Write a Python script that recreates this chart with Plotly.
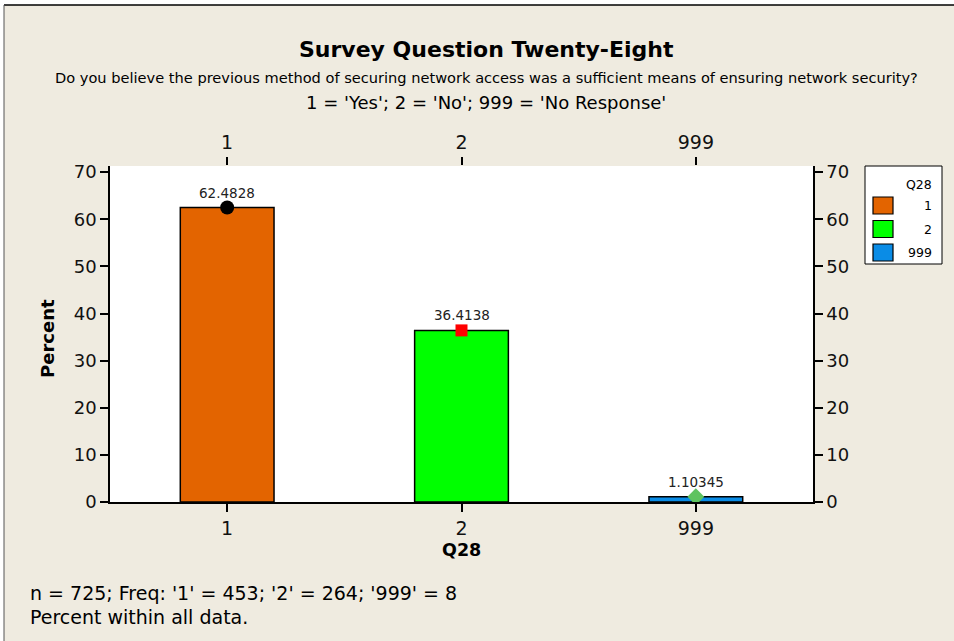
import plotly.graph_objects as go

# ---- data ----
categories = ["1", "2", "999"]
percents = [62.4828, 36.4138, 1.10345]
freqs = [453, 264, 8]
n_total = 725
bar_colors = ["#E36400", "#00FF00", "#0A8CE6"]
marker_symbols = ["circle", "square", "diamond"]
marker_colors = ["#000000", "#FF0000", "#5FC35F"]
marker_sizes = [14, 12, 13]
y_ticks = [0, 10, 20, 30, 40, 50, 60, 70]

title = "Survey Question Twenty-Eight"
subtitle1 = "Do you believe the previous method of securing network access was a sufficient means of ensuring network security?"
subtitle2 = "1 = 'Yes'; 2 = 'No'; 999 = 'No Response'"
footer1 = "n = 725; Freq: '1' = 453; '2' = 264; '999' = 8"
footer2 = "Percent within all data."

W, H = 954, 641
ML, MR, MT, MB = 110, 141, 166, 139
PW, PH = W - ML - MR, H - MT - MB
FONT = "DejaVu Sans"
BG = "#EFEBE0"


def px2x(px):
    return (px - ML) / PW


def px2y(py):
    return (H - MB - py) / PH


fig = go.Figure()

fig.add_trace(go.Bar(
    x=categories, y=percents, width=0.4,
    marker=dict(color=bar_colors, line=dict(color="black", width=1.5)),
    showlegend=False, hoverinfo="x+y",
))
fig.add_trace(go.Scatter(
    x=categories, y=percents, mode="markers",
    marker=dict(symbol=marker_symbols, color=marker_colors, size=marker_sizes,
                opacity=1, line=dict(width=0)),
    showlegend=False, cliponaxis=False,
))

# value labels
for i, v in enumerate(percents):
    fig.add_annotation(x=i, y=v, text=f"{v:g}", showarrow=False, yshift=15,
                       xanchor="center", yanchor="middle",
                       font=dict(family=FONT, size=13.5, color="#222"))

# texts
texts = [
    (title, 486, 50, 22, "center", True),
    (subtitle1, 486, 77, 14.6, "center", False),
    (subtitle2, 486, 102, 18, "center", False),
    (footer1, 28, 593, 19, "left", False),
    (footer2, 28, 617, 19, "left", False),
]
for t, x, y, s, al, bold in texts:
    fig.add_annotation(xref="paper", yref="paper", x=px2x(x), y=px2y(y),
                       xanchor=al, yanchor="middle", showarrow=False,
                       text=f"<b>{t}</b>" if bold else t,
                       font=dict(family=FONT, size=s, color="#000"))

# axis titles
fig.add_annotation(xref="paper", yref="paper", x=px2x(461), y=px2y(550),
                   xanchor="center", yanchor="middle",
                   text="<b>Q28</b>", showarrow=False, font=dict(family=FONT, size=17.5, color="#000"))
fig.add_annotation(xref="paper", yref="paper", x=px2x(47), y=px2y(339),
                   xanchor="center", yanchor="middle",
                   text="<b>Percent</b>", showarrow=False, textangle=-90,
                   font=dict(family=FONT, size=18, color="#000"))

# border frame (white strip outside)
shapes = [
    dict(type="rect", xref="paper", yref="paper", x0=px2x(-5), x1=px2x(W + 5), y0=px2y(-5), y1=px2y(5),
         fillcolor="white", line=dict(width=0), layer="above"),
    dict(type="rect", xref="paper", yref="paper", x0=px2x(-5), x1=px2x(4), y0=px2y(-5), y1=px2y(H + 5),
         fillcolor="white", line=dict(width=0), layer="above"),
    dict(type="line", xref="paper", yref="paper", x0=px2x(4), x1=px2x(W + 5), y0=px2y(5), y1=px2y(5),
         line=dict(color="black", width=1.5), layer="above"),
    dict(type="line", xref="paper", yref="paper", x0=px2x(4), x1=px2x(4), y0=px2y(5), y1=px2y(H + 5),
         line=dict(color="#555", width=1), layer="above"),
]

# manual legend
lx0, lx1, ly0, ly1 = 865, 942, 166, 264
shapes.append(dict(type="rect", xref="paper", yref="paper", x0=px2x(lx0), x1=px2x(lx1),
                   y0=px2y(ly0), y1=px2y(ly1), fillcolor="white",
                   line=dict(color="black", width=1)))
fig.add_annotation(xref="paper", yref="paper", x=px2x(934), y=px2y(184), xanchor="right",
                   yanchor="middle", text="Q28", showarrow=False,
                   font=dict(family=FONT, size=12.5, color="#000"))
for i, (c, col) in enumerate(zip(categories, bar_colors)):
    cy = 205.5 + i * 23.5
    shapes.append(dict(type="rect", xref="paper", yref="paper", x0=px2x(873), x1=px2x(893),
                       y0=px2y(cy - 8.5), y1=px2y(cy + 8.5), fillcolor=col,
                       line=dict(color="black", width=1.2)))
    fig.add_annotation(xref="paper", yref="paper", x=px2x(934), y=px2y(cy), xanchor="right",
                       yanchor="middle", text=c, showarrow=False,
                       font=dict(family=FONT, size=12.5, color="#000"))

yr = [0, 71.3]
axis_font = dict(family=FONT, size=18, color="#111")
xaxis_font = dict(family=FONT, size=19, color="#111")
fig.update_layout(
    width=W, height=H,
    margin=dict(l=ML, r=MR, t=MT, b=MB, pad=0),
    paper_bgcolor=BG, plot_bgcolor="white",
    shapes=shapes,
    bargap=0.6,
    xaxis=dict(type="category", categoryorder="array", categoryarray=categories,
               range=[-0.5, 2.5], showline=True, linecolor="black", linewidth=1.5,
               ticks="outside", ticklen=8, tickwidth=1.5, tickcolor="black",
               tickfont=xaxis_font, showgrid=False, zeroline=False, fixedrange=True),
    xaxis2=dict(type="category", categoryorder="array", categoryarray=categories,
                range=[-0.5, 2.5], overlaying="x", side="top", matches="x",
                showline=False, ticks="outside", ticklen=8, tickwidth=1.5, tickcolor="black",
                tickfont=xaxis_font, showgrid=False, zeroline=False,
                tickmode="array", tickvals=categories, ticktext=categories),
    yaxis=dict(range=yr, tickmode="array", tickvals=y_ticks, showline=True,
               linecolor="black", linewidth=1.5, ticks="outside", ticklen=8,
               tickwidth=1.5, tickcolor="black", tickfont=axis_font,
               showgrid=False, zeroline=False),
    yaxis2=dict(range=yr, tickmode="array", tickvals=y_ticks, overlaying="y", side="right",
                showline=True, linecolor="black", linewidth=1.5, ticks="outside", ticklen=8,
                tickwidth=1.5, tickcolor="black", tickfont=axis_font,
                showgrid=False, zeroline=False),
)
# invisible trace to activate secondary axes
fig.add_trace(go.Scatter(x=categories, y=percents, xaxis="x2", yaxis="y2", mode="markers",
                         marker=dict(opacity=0), showlegend=False, hoverinfo="skip"))

fig.write_html("out.html", config={"displayModeBar": False},
               post_script="document.body.style.margin='0';")
